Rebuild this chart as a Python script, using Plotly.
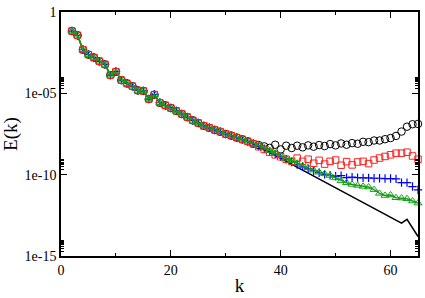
import numpy as np
import plotly.graph_objects as go

k = list(range(2, 66))

# log10 E(k), shared part k=2..35
early_log = [-1.17, -1.43, -2.32, -2.62, -2.80, -3.03, -3.22, -3.88, -3.67, -4.19,
             -4.39, -4.56, -4.82, -4.85, -5.35, -5.08, -5.58, -5.74, -5.90, -6.08,
             -6.27, -6.46, -6.66, -6.82, -7.00, -7.12, -7.25, -7.36, -7.50, -7.60,
             -7.72, -7.83, -7.95, -8.10]
# tails k=36..65
exact_tail = [-8.28, -8.46, -8.64, -8.82, -9.00, -9.18, -9.36, -9.54, -9.72, -9.90,
              -10.08, -10.26, -10.44, -10.62, -10.80, -10.98, -11.16, -11.34, -11.52, -11.70,
              -11.88, -12.06, -12.24, -12.42, -12.60, -12.78, -12.98, -12.75, -13.30, -13.80]
circle_tail = [-8.18, -8.26, -8.35, -8.16, -8.45, -8.22, -8.36, -8.22, -8.32, -8.20,
               -8.28, -8.18, -8.24, -8.12, -8.20, -8.08, -8.16, -8.06, -8.10, -7.98,
               -8.00, -7.90, -7.90, -7.82, -7.75, -7.62, -7.35, -7.05, -6.90, -6.88]
square_tail = [-8.28, -8.45, -8.62, -8.78, -8.90, -9.05, -9.18, -8.98, -9.18, -9.05,
               -9.30, -9.12, -9.35, -9.18, -9.10, -9.42, -9.20, -9.40, -9.22, -9.18,
               -9.32, -9.10, -8.98, -8.88, -8.78, -8.68, -8.68, -8.62, -8.85, -9.05]
plus_tail = [-8.26, -8.42, -8.58, -8.74, -8.90, -9.05, -9.22, -9.38, -9.52, -9.64,
             -9.76, -9.88, -9.98, -10.04, -10.10, -10.06, -10.18, -10.15, -10.18, -10.20,
             -10.20, -10.22, -10.22, -10.24, -10.24, -10.26, -10.49, -10.49, -10.73, -10.93]
tri_tail = [-8.20, -8.36, -8.52, -8.68, -8.84, -9.00, -9.15, -9.30, -9.45, -9.58,
            -9.72, -9.85, -9.95, -10.05, -10.20, -10.38, -10.50, -10.60, -10.66, -10.72,
            -10.76, -10.92, -11.15, -11.28, -11.25, -11.42, -11.44, -11.48, -11.62, -11.75]

def E(logs):
    return 10.0 ** np.array(logs)

exact = E(early_log + exact_tail)
circles = E(early_log + circle_tail)
squares = E(early_log + square_tail)
pluses = E(early_log + plus_tail)
tris = E(early_log + tri_tail)

fig = go.Figure()
fig.add_trace(go.Scatter(x=k, y=exact, mode="lines", line=dict(color="black", width=1.5),
                         cliponaxis=False))
fig.add_trace(go.Scatter(x=k, y=pluses, mode="markers", cliponaxis=False,
                         marker=dict(symbol="cross-thin-open", size=6, color="#0000ff", line=dict(width=1.2, color="#0000ff"))))
fig.add_trace(go.Scatter(x=k, y=circles, mode="markers", cliponaxis=False,
                         marker=dict(symbol="circle-open", size=7.5, color="black", line=dict(width=1))))
fig.add_trace(go.Scatter(x=k, y=squares, mode="markers", cliponaxis=False,
                         marker=dict(symbol="square-open", size=6.5, color="#ff2020", line=dict(width=1))))
fig.add_trace(go.Scatter(x=k, y=tris, mode="lines+markers", cliponaxis=False,
                         line=dict(color="#14a014", width=1.5),
                         marker=dict(symbol="triangle-up-open", size=7, color="#14a014", line=dict(width=1))))

font = dict(family="Liberation Serif, Times New Roman, serif", color="black")

ytickvals = [1e-15, 1e-10, 1e-5, 1]
yticktext = ["1e-15", "1e-10", "1e-05", "1"]
yminor = [m * 10.0 ** d for d in (-15, -10, -5) for m in range(2, 10)]

fig.update_layout(
    width=425, height=298,
    margin=dict(l=58, r=5, t=9, b=36),
    paper_bgcolor="white", plot_bgcolor="white",
    showlegend=False,
    font=dict(size=13, **font),
)
fig.update_xaxes(
    range=[0, 65], tickvals=[0, 20, 40, 60], ticks="inside", ticklen=6, tickwidth=1,
    tickcolor="black", showline=True, linecolor="black", linewidth=1.5, mirror="allticks",
    showgrid=False, zeroline=False,
    minor=dict(tickvals=[10, 30, 50], ticks="inside", ticklen=3, tickcolor="black", showgrid=False),
    tickfont=dict(size=14, **font),
    title=dict(text="k", font=dict(size=19, **font), standoff=2),
)
fig.update_yaxes(
    type="log", range=[-15, 0], tickvals=ytickvals, ticktext=yticktext,
    ticks="inside", ticklen=6, tickwidth=1, tickcolor="black",
    showline=True, linecolor="black", linewidth=1.5, mirror="allticks",
    showgrid=False, zeroline=False,
    minor=dict(tickvals=yminor, ticks="inside", ticklen=3, tickcolor="black", showgrid=False),
    tickfont=dict(size=14, **font),
    title=dict(text="E(k)", font=dict(size=19, **font), standoff=6),
)
fig.write_html("out.html")
